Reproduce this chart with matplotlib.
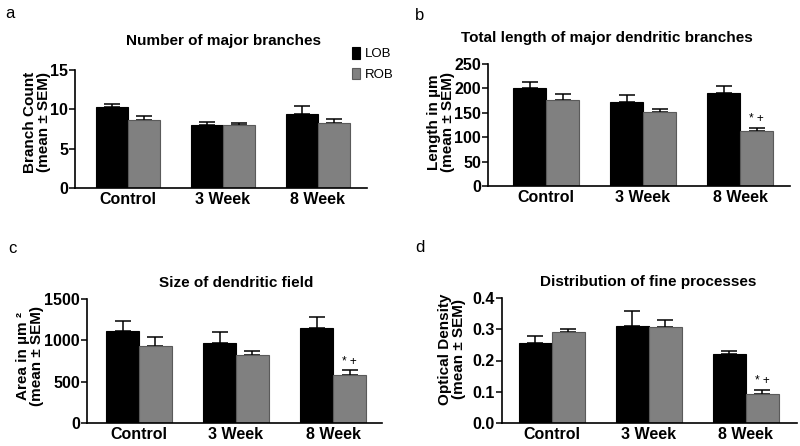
import matplotlib
matplotlib.use("Agg")
import matplotlib.pyplot as plt
import numpy as np

plt.rcParams['font.family'] = ['Liberation Sans', 'DejaVu Sans']

categories = ["Control", "3 Week", "8 Week"]
series_names = ["LOB", "ROB"]

# Panel a: Number of major branches
a_lob = [10.25, 7.95, 9.45]
a_lob_err = [0.45, 0.4, 0.95]
a_rob = [8.65, 7.95, 8.3]
a_rob_err = [0.5, 0.3, 0.48]

# Panel b: Total length of major dendritic branches
b_lob = [200, 172, 191]
b_lob_err = [14, 14, 14]
b_rob = [177, 151, 112.5]
b_rob_err = [12.5, 7, 6.5]

# Panel c: Size of dendritic field
c_lob = [1110, 972, 1150]
c_lob_err = [120, 130, 128]
c_rob = [935, 827, 581]
c_rob_err = [105, 48, 56]

# Panel d: Distribution of fine processes
d_lob = [0.256, 0.312, 0.220]
d_lob_err = [0.024, 0.045, 0.011]
d_rob = [0.291, 0.308, 0.094]
d_rob_err = [0.010, 0.023, 0.012]

fig = plt.figure(figsize=(8, 4.46), dpi=100)

W, H = 800.0, 446.0

def px_axes(left, right, bottom, top):
    return fig.add_axes([left / W, 1 - bottom / H, (right - left) / W, (bottom - top) / H])

panels = [
    dict(rect=(75, 367, 188, 70), xlim=(-0.558, 2.516), ylim=(0, 15), yticks=[0, 5, 10, 15],
         yfmt="{:.0f}", lob=a_lob, lob_err=a_lob_err, rob=a_rob, rob_err=a_rob_err,
         title="Number of major branches", tpos=(223, 45),
         ylabel="Branch Count\n(mean ± SEM)", ypos=(37, 122), letter="a", lpos=(5, 18), mark=False),
    dict(rect=(488, 790, 186, 64), xlim=(-0.598, 2.515), ylim=(0, 250), yticks=[0, 50, 100, 150, 200, 250],
         yfmt="{:.0f}", lob=b_lob, lob_err=b_lob_err, rob=b_rob, rob_err=b_rob_err,
         title="Total length of major dendritic branches", tpos=(607, 42),
         ylabel="Length in µm\n(mean ± SEM)", ypos=(441, 122), letter="b", lpos=(415, 20), mark=True),
    dict(rect=(87, 382, 423, 299), xlim=(-0.536, 2.505), ylim=(0, 1500), yticks=[0, 500, 1000, 1500],
         yfmt="{:.0f}", lob=c_lob, lob_err=c_lob_err, rob=c_rob, rob_err=c_rob_err,
         title="Size of dendritic field", tpos=(236, 287),
         ylabel="Area in µm ²\n(mean ± SEM)", ypos=(30, 356), letter="c", lpos=(8, 253), mark=True),
    dict(rect=(502, 797, 423, 298), xlim=(-0.515, 2.526), ylim=(0, 0.4), yticks=[0.0, 0.1, 0.2, 0.3, 0.4],
         yfmt="{:.1f}", lob=d_lob, lob_err=d_lob_err, rob=d_rob, rob_err=d_rob_err,
         title="Distribution of fine processes", tpos=(648, 286),
         ylabel="Optical Density\n(mean ± SEM)", ypos=(452, 349), letter="d", lpos=(415, 252), mark=True),
]

x = np.arange(len(categories))
bw = 0.34
gray = "#808080"

for i, p in enumerate(panels):
    l, r, b, t = p["rect"]
    ax = px_axes(l, r, b, t)
    ax.bar(x - bw / 2, p["lob"], width=bw, color="black", edgecolor="black", linewidth=0.8,
           label=series_names[0], zorder=2)
    ax.bar(x + bw / 2, p["rob"], width=bw, color=gray, edgecolor="#5a5a5a", linewidth=0.8,
           label=series_names[1], zorder=2)
    ax.errorbar(x - bw / 2, p["lob"], yerr=[np.zeros(3), p["lob_err"]], fmt="none",
                ecolor="black", elinewidth=1.1, capsize=6, capthick=1.1, zorder=1)
    ax.errorbar(x + bw / 2, p["rob"], yerr=[np.zeros(3), p["rob_err"]], fmt="none",
                ecolor="black", elinewidth=1.1, capsize=6, capthick=1.1, zorder=1)
    ax.set_xlim(*p["xlim"])
    ax.set_ylim(*p["ylim"])
    ax.set_yticks(p["yticks"])
    ax.set_yticklabels([p["yfmt"].format(v) for v in p["yticks"]], fontsize=11.5, fontweight="bold")
    ax.set_xticks(x)
    ax.set_xticklabels(categories, fontsize=11.5, fontweight="bold")
    ax.tick_params(axis="x", length=0, pad=3)
    ax.tick_params(axis="y", length=4, width=1.1, pad=1)
    for s in ["top", "right"]:
        ax.spines[s].set_visible(False)
    for s in ["left", "bottom"]:
        ax.spines[s].set_linewidth(1.2)
    fig.text(p["tpos"][0] / W, 1 - p["tpos"][1] / H, p["title"], ha="center", va="baseline",
             fontsize=11, fontweight="bold")
    fig.text(p["ypos"][0] / W, 1 - p["ypos"][1] / H, p["ylabel"], ha="center", va="center",
             rotation=90, multialignment="center", fontsize=11, fontweight="bold", linespacing=1.05)
    fig.text(p["lpos"][0] / W, 1 - p["lpos"][1] / H, p["letter"], ha="left", va="baseline",
             fontsize=12)
    if p["mark"]:
        yr = p["ylim"][1]
        ytop = p["rob"][2] + p["rob_err"][2] + yr * 0.07
        ax.text(x[2] + bw / 2, ytop, "* +", ha="center", va="center", fontsize=8.5)
    if i == 0:
        ax.legend(loc="upper left", bbox_to_anchor=(352 / W, 1 - 47 / H),
                  bbox_transform=fig.transFigure, frameon=False, fontsize=9.5,
                  handlelength=0.6, handleheight=1.0, handletextpad=0.4, labelspacing=0.55,
                  borderpad=0, borderaxespad=0)

fig.savefig("out.png", dpi=100)
